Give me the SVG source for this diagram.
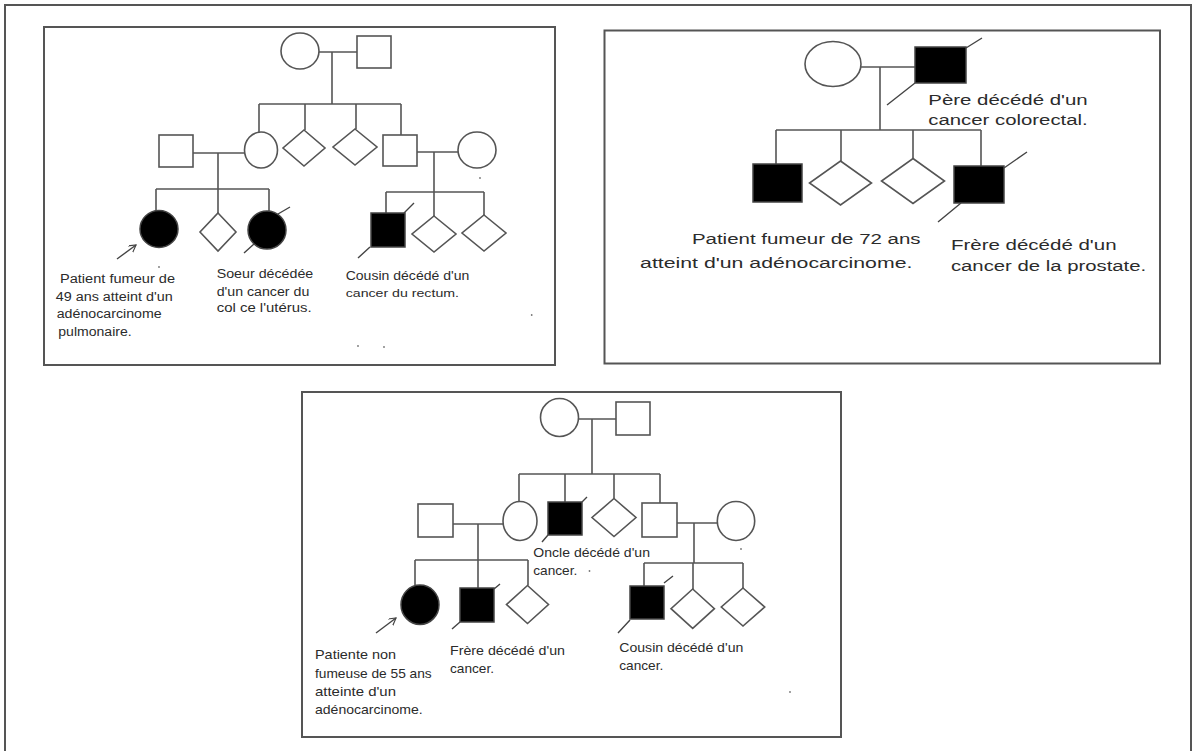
<svg xmlns="http://www.w3.org/2000/svg" width="1196" height="751" viewBox="0 0 1196 751">
<style>
.fr{fill:none;stroke:#555;stroke-width:2}
.ln{fill:none;stroke:#555;stroke-width:1.6}
.nd{fill:#fff;stroke:#555;stroke-width:1.6}
.af{fill:#000;stroke:#444;stroke-width:1.5}
.sl{stroke:#444;stroke-width:1.4;fill:none}
.t{font-family:"Liberation Sans",Arial,sans-serif;fill:#2b2b2b}
.t1{font-size:12.5px}
.t2{font-size:15.5px}
.t3{font-size:13px}
.sp{fill:#777}
</style>
<defs>
<marker id="arr" markerUnits="userSpaceOnUse" markerWidth="10" markerHeight="10" refX="7" refY="4" orient="auto">
<path d="M0,0 L7,4 L0,8" fill="none" stroke="#444" stroke-width="1.2"/>
</marker>
</defs>
<rect width="1196" height="751" fill="#fff"/>
<path class="fr" d="M5,751 V5 H1191 V751"/>
<rect class="fr" x="44" y="27" width="511" height="338"/>
<rect class="fr" x="604.5" y="30.5" width="555.5" height="333"/>
<rect class="fr" x="302" y="392" width="539" height="345"/>

<g id="connectors">
<path class="ln" d="M319,52 H357 M332,52 V104 M259,104 H401 M259,104 V132 M305,104 V130 M356,104 V129 M401,104 V135"/>
<path class="ln" d="M193,153 H245 M218,153 V189 M156,189 H269 M156,189 V211 M218,189 V213 M269,189 V211"/>
<path class="ln" d="M417,152 H458 M434,152 V192 M386,192 H484 M386,192 V213 M434,192 V216 M484,192 V215"/>
<path class="ln" d="M861,67 H915 M880,67 V130 M776,130 H981 M776,130 V164 M841,130 V161 M913,130 V158.5 M981,130 V166"/>
<path class="ln" d="M578.5,419 H616 M592,419 V474 M519,474 H660 M519,474 V502 M565,474 V502 M614,474 V498.5 M660,474 V503"/>
<path class="ln" d="M453,524 H503 M478,524 V560 M415,560 H528 M415,560 V585 M478,560 V588 M528,560 V585.5"/>
<path class="ln" d="M677,523 H717.5 M694,523 V563 M644,563 H743 M644,563 V586 M693,563 V589 M743,563 V588"/>
<path class="sl" d="M117,259 L136,245" marker-end="url(#arr)"/>
<path class="sl" d="M376,633 L396,618" marker-end="url(#arr)"/>
</g>

<!-- Panel 1 -->
<g id="p1-grandmother"><ellipse class="nd" cx="300" cy="51" rx="19" ry="18"/></g>
<g id="p1-grandfather"><rect class="nd" x="357" y="36" width="34" height="32"/></g>
<g id="p1-father"><rect class="nd" x="159" y="135" width="34" height="32"/></g>
<g id="p1-mother"><ellipse class="nd" cx="261" cy="150" rx="16.5" ry="18"/></g>
<g id="p1-sib1"><polygon class="nd" points="304,130 325,148 304,166 283,148"/></g>
<g id="p1-sib2"><polygon class="nd" points="355,129 377,147 355,165 333,147"/></g>
<g id="p1-uncle"><rect class="nd" x="383" y="135" width="34" height="31"/></g>
<g id="p1-aunt"><ellipse class="nd" cx="477" cy="150" rx="19" ry="18"/></g>
<g id="p1-patient"><ellipse class="af" cx="159" cy="229" rx="19" ry="18.5"/></g>
<g id="p1-sib3"><polygon class="nd" points="218,213 236,232 218,251 200,232"/></g>
<g id="p1-sister"><ellipse class="af" cx="267" cy="230" rx="19" ry="19"/><path class="sl" d="M244,253 L254,244 M278,214 L290,207"/></g>
<g id="p1-cousin"><rect class="af" x="371" y="213" width="34" height="34"/><path class="sl" d="M358,258 L370,247 M404,213 L414,203"/></g>
<g id="p1-cousin2"><polygon class="nd" points="434,216 456,234 434,252 412,234"/></g>
<g id="p1-cousin3"><polygon class="nd" points="484,215 506,233 484,251 462,233"/></g>
<g id="p1-labels" class="t t1">
<text x="60" y="282.7" textLength="115" lengthAdjust="spacingAndGlyphs">Patient fumeur de</text>
<text x="55.7" y="300.7" textLength="117" lengthAdjust="spacingAndGlyphs">49 ans atteint d'un</text>
<text x="56.7" y="317.7" textLength="105" lengthAdjust="spacingAndGlyphs">adénocarcinome</text>
<text x="58.3" y="336" textLength="73.4" lengthAdjust="spacingAndGlyphs">pulmonaire.</text>
<text x="216.7" y="278" textLength="96.6" lengthAdjust="spacingAndGlyphs">Soeur décédée</text>
<text x="216.7" y="296" textLength="92.6" lengthAdjust="spacingAndGlyphs">d'un cancer du</text>
<text x="216.7" y="311.7" textLength="95" lengthAdjust="spacingAndGlyphs">col ce l'utérus.</text>
<text x="345.7" y="280" textLength="123.6" lengthAdjust="spacingAndGlyphs">Cousin décédé d'un</text>
<text x="345.7" y="297.3" textLength="113.3" lengthAdjust="spacingAndGlyphs" font-size="11.5">cancer du rectum.</text>
</g>

<!-- Panel 2 -->
<g id="p2-mother"><ellipse class="nd" cx="833" cy="64" rx="28" ry="22.5"/></g>
<g id="p2-father"><rect class="af" x="915" y="47" width="51" height="36"/><path class="sl" d="M887,105 L915,83 M966,48 L982,38"/></g>
<g id="p2-patient"><rect class="af" x="753" y="164" width="49" height="38"/></g>
<g id="p2-sib1"><polygon class="nd" points="840.5,161 871.5,183 840.5,205 809.5,183"/></g>
<g id="p2-sib2"><polygon class="nd" points="913,158.5 944.5,181 913,203.5 881.5,181"/></g>
<g id="p2-brother"><rect class="af" x="954" y="166" width="50" height="37"/><path class="sl" d="M1004,168 L1027,152 M938,222 L961,203"/></g>
<g id="p2-labels" class="t t2">
<text x="928.3" y="105" textLength="159.4" lengthAdjust="spacingAndGlyphs">Père décédé d'un</text>
<text x="928.3" y="125" textLength="159.4" lengthAdjust="spacingAndGlyphs">cancer colorectal.</text>
<text x="691.9" y="244.3" textLength="228.7" lengthAdjust="spacingAndGlyphs">Patient fumeur de 72 ans</text>
<text x="640.1" y="267.7" textLength="272.3" lengthAdjust="spacingAndGlyphs">atteint d'un adénocarcinome.</text>
<text x="950.9" y="250" textLength="165.7" lengthAdjust="spacingAndGlyphs">Frère décédé d'un</text>
<text x="950.9" y="270.7" textLength="195.3" lengthAdjust="spacingAndGlyphs">cancer de la prostate.</text>
</g>

<!-- Panel 3 -->
<g id="p3-grandmother"><ellipse class="nd" cx="559.5" cy="417.5" rx="19" ry="19"/></g>
<g id="p3-grandfather"><rect class="nd" x="616" y="402" width="34" height="33"/></g>
<g id="p3-father"><rect class="nd" x="418" y="504" width="35" height="33"/></g>
<g id="p3-mother"><ellipse class="nd" cx="520" cy="521" rx="17" ry="19.5"/></g>
<g id="p3-uncle"><rect class="af" x="548" y="502" width="34" height="33"/><path class="sl" d="M542,542 L548,535 M582,502 L587,497"/></g>
<g id="p3-sib1"><polygon class="nd" points="614,498.5 636,517.5 614,536.5 592,517.5"/></g>
<g id="p3-uncle2"><rect class="nd" x="642" y="503" width="35" height="34"/></g>
<g id="p3-aunt"><ellipse class="nd" cx="736" cy="521" rx="18.7" ry="19.5"/></g>
<g id="p3-patient"><ellipse class="af" cx="420" cy="604.7" rx="19" ry="19.7"/></g>
<g id="p3-brother"><rect class="af" x="460" y="588" width="34" height="34"/><path class="sl" d="M452,629 L460,622 M494,589 L500,584"/></g>
<g id="p3-sib2"><polygon class="nd" points="527.5,585.5 548.5,604.5 527.5,623.5 506.5,604.5"/></g>
<g id="p3-cousin"><rect class="af" x="630" y="586" width="34" height="33"/><path class="sl" d="M618,633 L630,620 M664,583 L673,576"/></g>
<g id="p3-cousin2"><polygon class="nd" points="692.7,589 714.4,608.7 692.7,628.4 671,608.7"/></g>
<g id="p3-cousin3"><polygon class="nd" points="743,588 764.7,607 743,626 721.3,607"/></g>
<g id="p3-labels" class="t t3">
<text x="533.3" y="556.7" textLength="116.7" lengthAdjust="spacingAndGlyphs">Oncle décédé d'un</text>
<text x="533.3" y="575" textLength="44" lengthAdjust="spacingAndGlyphs">cancer.</text>
<text x="315" y="659.3" textLength="81" lengthAdjust="spacingAndGlyphs">Patiente non</text>
<text x="315" y="677.7" textLength="116.7" lengthAdjust="spacingAndGlyphs">fumeuse de 55 ans</text>
<text x="315" y="696" textLength="81" lengthAdjust="spacingAndGlyphs">atteinte d'un</text>
<text x="315" y="714" textLength="107.7" lengthAdjust="spacingAndGlyphs">adénocarcinome.</text>
<text x="450" y="655" textLength="115" lengthAdjust="spacingAndGlyphs">Frère décédé d'un</text>
<text x="450" y="673.3" textLength="44" lengthAdjust="spacingAndGlyphs">cancer.</text>
<text x="619.3" y="651.7" textLength="124" lengthAdjust="spacingAndGlyphs">Cousin décédé d'un</text>
<text x="619.3" y="670" textLength="44" lengthAdjust="spacingAndGlyphs">cancer.</text>
</g>

<g id="specks" class="sp">
<circle cx="480" cy="178" r="0.9"/>
<circle cx="531.7" cy="315" r="0.9"/>
<circle cx="358" cy="346" r="0.9"/>
<circle cx="384" cy="347" r="0.9"/>
<circle cx="159" cy="267" r="0.9"/>
<circle cx="589.5" cy="571" r="0.9"/>
<circle cx="741" cy="549" r="0.9"/>
<circle cx="790" cy="692" r="0.9"/>
</g>
</svg>
